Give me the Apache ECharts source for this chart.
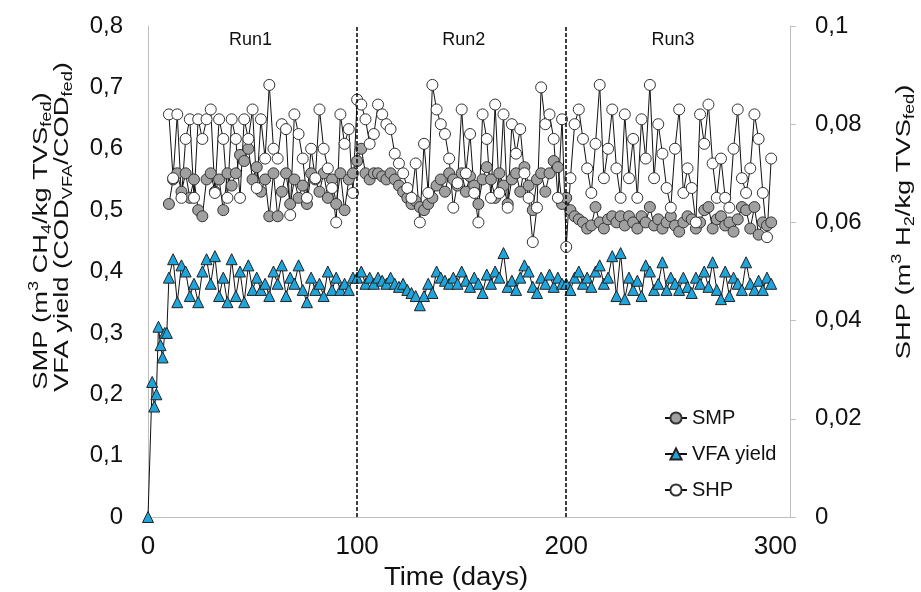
<!DOCTYPE html>
<html>
<head>
<meta charset="utf-8">
<script src="https://cdn.jsdelivr.net/npm/echarts@6/dist/echarts.min.js"></script>
<style>
html, body { margin: 0; padding: 0; background: #fff; }
#main { width: 921px; height: 592px; }
</style>
</head>
<body>
<div id="main"></div>
<script>
// days shared by SMP, SHP and most VFA points
var days = [
  10, 12, 14, 16, 18, 20, 22, 24, 26, 28,
  30, 32, 34, 36, 38, 40, 42, 44, 46, 48,
  50, 52, 54, 56, 58, 60, 62, 64, 66, 68,
  70, 72, 74, 76, 78, 80, 82, 84, 86, 88,
  90, 92, 94, 96, 98, 100, 102, 104, 106, 108,
  110, 112, 114, 116, 118, 120, 122, 124, 126, 128,
  130, 132, 134, 136, 138, 140, 142, 144, 146, 148,
  150, 152, 154, 156, 158, 160, 162, 164, 166, 168,
  170, 172, 174, 176, 178, 180, 182, 184, 186, 188,
  190, 192, 194, 196, 198, 200, 202, 204, 206, 208,
  210, 212, 214, 216, 218, 220, 222, 224, 226, 228,
  230, 232, 234, 236, 238, 240, 242, 244, 246, 248,
  250, 252, 254, 256, 258, 260, 262, 264, 266, 268,
  270, 272, 274, 276, 278, 280, 282, 284, 286, 288,
  290, 292, 294, 296, 298
];

// SMP (m3 CH4/kg TVS fed) - left axis
var smp = [
  0.51, 0.55, 0.56, 0.53, 0.56, 0.52, 0.55, 0.50, 0.49, 0.55,
  0.56, 0.53, 0.55, 0.50, 0.56, 0.54, 0.56, 0.59, 0.58, 0.60,
  0.55, 0.57, 0.53, 0.55, 0.49, 0.56, 0.49, 0.53, 0.56, 0.51,
  0.55, 0.52, 0.54, 0.51, 0.56, 0.55, 0.53, 0.56, 0.52, 0.55,
  0.51, 0.56, 0.50, 0.55, 0.56, 0.58, 0.60, 0.56, 0.55, 0.56,
  0.56, 0.555, 0.55, 0.56, 0.55, 0.54, 0.53, 0.52, 0.51, 0.515,
  0.505, 0.50, 0.51, 0.52, 0.54, 0.55, 0.53, 0.56, 0.55, 0.54,
  0.56, 0.53, 0.555, 0.54, 0.51, 0.55, 0.57, 0.55, 0.52, 0.56,
  0.54, 0.51, 0.55, 0.56, 0.53, 0.57, 0.54, 0.50, 0.55, 0.56,
  0.53, 0.56, 0.58, 0.57, 0.51, 0.52, 0.50, 0.49, 0.485, 0.48,
  0.47, 0.475, 0.505, 0.48, 0.47, 0.485, 0.49, 0.48, 0.49, 0.475,
  0.49, 0.48, 0.47, 0.49, 0.48, 0.505, 0.475, 0.485, 0.47, 0.48,
  0.49, 0.475, 0.465, 0.48, 0.49, 0.485, 0.47, 0.48, 0.50, 0.505,
  0.47, 0.485, 0.49, 0.475, 0.48, 0.465, 0.485, 0.505, 0.50, 0.47,
  0.505, 0.46, 0.48, 0.475, 0.48
];

// VFA yield (COD VFA / COD fed) - left axis
var earlyDays = [0, 2, 3, 4, 5, 6, 7, 8, 9];
var earlyVfa = [0, 0.22, 0.18, 0.20, 0.31, 0.28, 0.26, 0.30, 0.30];
var vfa = [
  0.39, 0.42, 0.35, 0.41, 0.40, 0.36, 0.38, 0.35, 0.40, 0.42,
  0.38, 0.425, 0.36, 0.39, 0.35, 0.42, 0.36, 0.40, 0.35, 0.41,
  0.37, 0.39, 0.37, 0.38, 0.36, 0.40, 0.38, 0.41, 0.36, 0.39,
  0.38, 0.41, 0.37, 0.35, 0.39, 0.37, 0.38, 0.36, 0.40, 0.37,
  0.39, 0.37, 0.38, 0.37, 0.39, 0.39, 0.40, 0.38, 0.39, 0.38,
  0.39, 0.385, 0.38, 0.39, 0.38, 0.375, 0.38, 0.37, 0.365, 0.36,
  0.345, 0.36, 0.38, 0.365, 0.40, 0.39, 0.385, 0.38, 0.39, 0.38,
  0.40, 0.385, 0.375, 0.39, 0.38, 0.365, 0.395, 0.38, 0.40, 0.39,
  0.43, 0.375, 0.385, 0.37, 0.39, 0.41, 0.40, 0.375, 0.365, 0.39,
  0.38, 0.395, 0.375, 0.39, 0.38, 0.38, 0.37, 0.39, 0.40, 0.38,
  0.39, 0.375, 0.40, 0.41, 0.38, 0.39, 0.425, 0.36, 0.43, 0.355,
  0.39, 0.37, 0.385, 0.36, 0.41, 0.40, 0.37, 0.38, 0.415, 0.37,
  0.39, 0.38, 0.37, 0.39, 0.375, 0.365, 0.39, 0.38, 0.40, 0.375,
  0.415, 0.37, 0.355, 0.40, 0.36, 0.39, 0.38, 0.37, 0.415, 0.38,
  0.37, 0.385, 0.37, 0.39, 0.38
];

// SHP (m3 H2/kg TVS fed) - right axis
var shp = [
  0.082, 0.069, 0.082, 0.065, 0.077, 0.081, 0.065, 0.081, 0.077, 0.081,
  0.083, 0.066, 0.081, 0.077, 0.065, 0.081, 0.077, 0.065, 0.081, 0.077,
  0.083, 0.067, 0.081, 0.073, 0.088, 0.075, 0.073, 0.080, 0.079, 0.0615,
  0.082, 0.078, 0.073, 0.065, 0.075, 0.069, 0.083, 0.075, 0.071, 0.067,
  0.060, 0.082, 0.076, 0.079, 0.066, 0.085, 0.084, 0.081, 0.076, 0.078,
  0.084, 0.082, 0.080, 0.079, 0.074, 0.072, 0.070, 0.067, 0.065, 0.072,
  0.060, 0.076, 0.066, 0.088, 0.083, 0.080, 0.078, 0.073, 0.063, 0.068,
  0.083, 0.070, 0.078, 0.066, 0.060, 0.082, 0.077, 0.065, 0.084, 0.066,
  0.082, 0.063, 0.080, 0.074, 0.079, 0.070, 0.065, 0.056, 0.063, 0.0875,
  0.080, 0.082, 0.077, 0.065, 0.081, 0.055, 0.069, 0.080, 0.083, 0.077,
  0.071, 0.066, 0.076, 0.088, 0.069, 0.075, 0.083, 0.071, 0.065, 0.082,
  0.069, 0.077, 0.065, 0.081, 0.073, 0.088, 0.069, 0.080, 0.074, 0.067,
  0.063, 0.075, 0.083, 0.066, 0.071, 0.067, 0.060, 0.082, 0.076, 0.084,
  0.072, 0.065, 0.073, 0.065, 0.063, 0.075, 0.083, 0.069, 0.066, 0.071,
  0.082, 0.077, 0.066, 0.057, 0.073
];

var runNames = ['Run1', 'Run2', 'Run3'];
var runCenters = [49, 151, 251];
var runBounds = [100, 200];

var font = 'Liberation Sans, Arial, sans-serif';

function pairs(xs, ys) {
  var out = [];
  for (var i = 0; i < xs.length; i++) out.push([xs[i], ys[i]]);
  return out;
}

// comma decimals, like the original
function comma(v) {
  if (v === 0) return '0';
  return String(+v.toFixed(3)).replace('.', ',');
}

var rich = {
  n: { fontSize: 21, fontFamily: font, fill: '#111', lineHeight: 27 },
  sup: { fontSize: 14, fontFamily: font, fill: '#111', lineHeight: 15, verticalAlign: 'top' },
  sub: { fontSize: 14, fontFamily: font, fill: '#111', lineHeight: 15, verticalAlign: 'bottom' }
};

// rotated axis titles (the original font is drawn long and narrow)
function axisTitle(x, y, text) {
  return {
    type: 'text',
    x: x,
    y: y,
    rotation: Math.PI / 2,
    scaleX: 1.3,
    style: {
      text: text,
      rich: rich,
      align: 'center',
      verticalAlign: 'middle',
      fill: '#111',
      fontSize: 21,
      fontFamily: font
    }
  };
}

var myChart = echarts.init(document.getElementById('main'));

var option = {
  animation: false,
  backgroundColor: '#fff',
  textStyle: { fontFamily: font },
  grid: { left: 148, right: 131, top: 26, bottom: 75 },
  legend: {
    data: ['SMP', 'VFA yield', 'SHP'],
    orient: 'vertical',
    left: 659,
    top: 403,
    itemWidth: 22,
    itemHeight: 14,
    itemGap: 16,
    textStyle: { fontSize: 20, color: '#111', fontFamily: font }
  },
  xAxis: {
    type: 'value',
    min: 0,
    max: 307,
    interval: 100,
    axisLine: { lineStyle: { color: '#bfbfbf', width: 1 } },
    axisTick: { show: false },
    splitLine: { show: false },
    axisLabel: {
      fontSize: 26,
      color: '#111',
      margin: 17,
      formatter: function (v) { return v % 100 === 0 ? String(v) : ''; }
    }
  },
  yAxis: [{
    type: 'value',
    min: 0,
    max: 0.8,
    interval: 0.1,
    axisLine: { show: true, lineStyle: { color: '#bfbfbf', width: 1 } },
    axisTick: { show: false },
    splitLine: { show: false },
    axisLabel: { fontSize: 24, color: '#111', margin: 25, formatter: comma }
  }, {
    type: 'value',
    min: 0,
    max: 0.1,
    interval: 0.02,
    position: 'right',
    axisLine: { show: true, lineStyle: { color: '#bfbfbf', width: 1 } },
    axisTick: { show: true, length: 6, lineStyle: { color: '#bfbfbf' } },
    splitLine: { show: false },
    axisLabel: { fontSize: 24, color: '#111', margin: 25, formatter: comma }
  }],
  graphic: [
    axisTitle(41, 241, '{n|SMP (m}{sup|3}{n| CH}{sub|4}{n|/kg TVS}{sub|fed}{n|)}'),
    axisTitle(62, 227, '{n|VFA yield (COD}{sub|VFA}{n|/COD}{sub|fed}{n|)}'),
    axisTitle(904, 222, '{n|SHP (m}{sup|3}{n| H}{sub|2}{n|/kg TVS}{sub|fed}{n|)}'),
    {
      type: 'text',
      x: 456,
      y: 578,
      scaleX: 1.1,
      style: {
        text: 'Time (days)',
        align: 'center',
        verticalAlign: 'middle',
        fill: '#111',
        fontSize: 25,
        fontFamily: font
      }
    }
  ],
  series: [{
    name: 'SMP',
    type: 'line',
    yAxisIndex: 0,
    data: pairs(days, smp),
    symbol: 'circle',
    symbolSize: 11,
    lineStyle: { color: '#111', width: 1 },
    itemStyle: { color: '#a0a0a0', borderColor: '#333', borderWidth: 1 },
    markLine: {
      silent: true,
      symbol: ['none', 'none'],
      label: { show: false },
      lineStyle: { color: '#000', type: [4, 2], width: 1.5 },
      data: runBounds.map(function (b) { return { xAxis: b }; })
    },
    markPoint: {
      silent: true,
      symbol: 'rect',
      symbolSize: 1,
      itemStyle: { color: 'rgba(0,0,0,0)' },
      label: { show: true, position: 'inside', formatter: '{b}', color: '#111', fontSize: 18, fontFamily: font },
      data: runNames.map(function (n, i) { return { name: n, coord: [runCenters[i], 0.777] }; })
    }
  }, {
    name: 'VFA yield',
    type: 'line',
    yAxisIndex: 0,
    data: pairs(earlyDays, earlyVfa).concat(pairs(days, vfa)),
    symbol: 'triangle',
    symbolSize: 11,
    lineStyle: { color: '#111', width: 1 },
    itemStyle: { color: '#1ea6dc', borderColor: '#222', borderWidth: 1 }
  }, {
    name: 'SHP',
    type: 'line',
    yAxisIndex: 1,
    data: pairs(days, shp),
    symbol: 'circle',
    symbolSize: 11,
    lineStyle: { color: '#111', width: 1 },
    itemStyle: { color: '#fff', borderColor: '#333', borderWidth: 1 }
  }]
};

myChart.setOption(option);
</script>
</body>
</html>
